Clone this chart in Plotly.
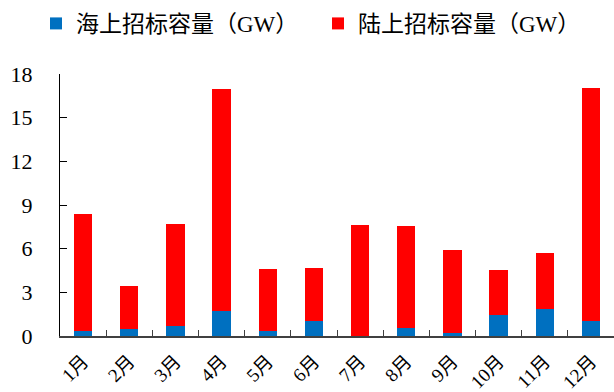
import plotly.graph_objects as go

# Monthly wind-power tender volumes (GW)
months = ["1月", "2月", "3月", "4月", "5月", "6月", "7月", "8月", "9月", "10月", "11月", "12月"]
offshore = [0.37, 0.50, 0.71, 1.74, 0.32, 1.01, 0.0, 0.55, 0.18, 1.47, 1.84, 1.01]
onshore = [7.99, 2.94, 6.98, 15.20, 4.25, 3.63, 7.62, 6.98, 5.70, 3.05, 3.83, 16.05]
y_ticks = [0, 3, 6, 9, 12, 15, 18]

FONT = "Liberation Serif, Times New Roman, Noto Sans CJK SC, serif"
W, H = 614, 392

fig = go.Figure()
fig.add_trace(go.Bar(
    x=months, y=offshore, name="海上招标容量（GW）",
    marker=dict(color="#0070C0", line=dict(width=0)),
    legend="legend",
))
fig.add_trace(go.Bar(
    x=months, y=onshore, name="陆上招标容量（GW）",
    marker=dict(color="#FF0000", line=dict(width=0)),
    legend="legend2",
))

legend_common = dict(
    orientation="h",
    xref="container", yref="container",
    xanchor="left", y=0.995, yanchor="top",
    font=dict(family=FONT, size=23, color="black"),
    bgcolor="rgba(0,0,0,0)",
)

fig.update_layout(
    barmode="stack",
    bargap=0.6,
    width=W, height=H,
    margin=dict(l=60, r=0, t=74, b=56, autoexpand=False),
    paper_bgcolor="white", plot_bgcolor="white",
    font=dict(family=FONT, size=20, color="black"),
    showlegend=True,
    legend=dict(legend_common, x=36 / W),
    legend2=dict(legend_common, x=318 / W),
)

fig.update_xaxes(
    type="category",
    range=[-0.5, 11.5],
    showline=True, linecolor="#404040", linewidth=1.5,
    ticks="inside", tickson="boundaries", ticklen=6, tickcolor="#404040", tickwidth=1.3,
    tickangle=-45,
    ticklabelstandoff=5,
    tickfont=dict(family=FONT, size=19, color="black"),
    showgrid=False, zeroline=False,
)
fig.update_yaxes(
    range=[0, 18],
    tickvals=y_ticks,
    showline=True, linecolor="black", linewidth=1.2,
    ticks="inside", ticklen=7, tickcolor="black", tickwidth=1.2,
    ticklabelstandoff=22,
    tickfont=dict(family=FONT, size=22, color="black"),
    showgrid=False, zeroline=False,
)

fig.write_html("out.html")
